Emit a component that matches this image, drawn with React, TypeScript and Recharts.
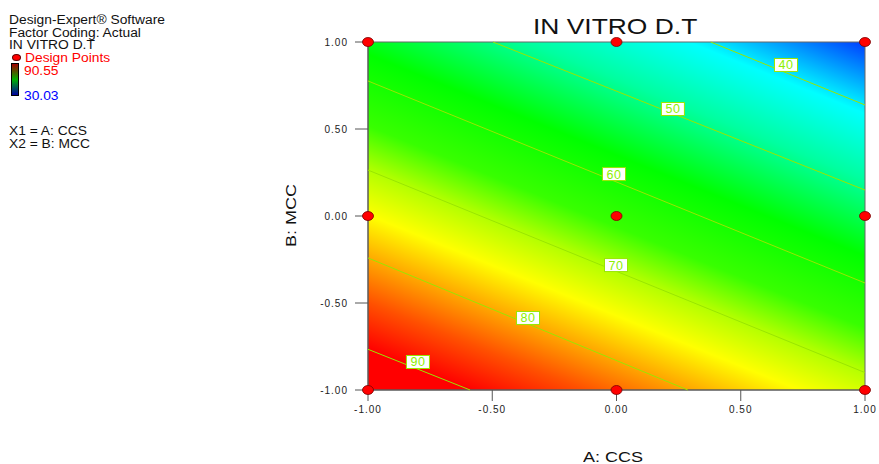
import React from 'react'
import {
  ComposedChart,
  ReferenceArea,
  Scatter,
  XAxis,
  YAxis
} from 'recharts'

// design points (coded factor levels)
const designPoints = [
  { a: -1, b: -1 },
  { a: 0, b: -1 },
  { a: 1, b: -1 },
  { a: -1, b: 0 },
  { a: 0, b: 0 },
  { a: 1, b: 0 },
  { a: -1, b: 1 },
  { a: 0, b: 1 },
  { a: 1, b: 1 }
]

// contour lines, endpoints
const contour40 = [{ a: 0.379, b: 1 }, { a: 1, b: 0.638 }]
const contour50 = [{ a: -0.497, b: 1 }, { a: 1, b: 0.149 }]
const contour60 = [{ a: -1, b: 0.776 }, { a: 1, b: -0.385 }]
const contour70 = [{ a: -1, b: 0.264 }, { a: 1, b: -0.9 }]
const contour80 = [{ a: -1, b: -0.241 }, { a: 0.287, b: -1 }]
const contour90 = [{ a: -1, b: -0.766 }, { a: -0.589, b: -1 }]

const contourLabels = [
  { a: 0.682, b: 0.868, level: '40' },
  { a: 0.227, b: 0.615, level: '50' },
  { a: -0.01, b: 0.241, level: '60' },
  { a: -0.002, b: -0.282, level: '70' },
  { a: -0.356, b: -0.586, level: '80' },
  { a: -0.799, b: -0.839, level: '90' }
]

const ticks = [-1, -0.5, 0, 0.5, 1]

const legendLines = [
  'Design-Expert® Software',
  'Factor Coding: Actual',
  'IN VITRO D.T'
]

const lineColor = '#99e600'

const DesignDot = (props: any) => {
  const { cx, cy } = props
  return <ellipse cx={cx} cy={cy} rx={5.5} ry={4.5} fill='#ff0000' stroke='#7a0000' strokeWidth={0.8} />
}

const ContourTag = (props: any) => {
  const { cx, cy, payload } = props
  return (
    <g>
      <rect x={cx - 11.5} y={cy - 6.5} width={23} height={13} fill='#ffffff' stroke={lineColor} strokeWidth={1} />
      <text x={cx} y={cy + 4.5} textAnchor='middle' fontSize={12.5} fill='#8cf000' letterSpacing={0.5}>
        {payload.level}
      </text>
    </g>
  )
}

const NoShape = () => <g />

const TickY = (props: any) => {
  const { x, y, payload } = props
  return (
    <text x={x} y={y + 3.5} textAnchor='end' fontSize={10} fill='#222' letterSpacing={1}>
      {payload.value.toFixed(2)}
    </text>
  )
}

const TickX = (props: any) => {
  const { x, y, payload } = props
  return (
    <text x={x} y={y + 9} textAnchor='middle' fontSize={10} fill='#222' letterSpacing={1}>
      {payload.value.toFixed(2)}
    </text>
  )
}

const contours = [contour40, contour50, contour60, contour70, contour80, contour90]

const txt: React.CSSProperties = {
  position: 'absolute',
  fontFamily: '"Liberation Sans", Arial, sans-serif',
  whiteSpace: 'nowrap',
  lineHeight: 1,
  transformOrigin: 'left center'
}

const App = () => {
  return (
    <div style={{ position: 'absolute', left: 0, top: 0, width: 879, height: 464, background: '#fff' }}>
      <svg width={0} height={0} style={{ position: 'absolute' }}>
        <defs>
          <linearGradient id='dtGrad' gradientUnits='userSpaceOnUse' x1={865} y1={42} x2={673.4} y2={514.3}>
            <stop offset={0} stopColor='rgb(0,60,255)' />
            <stop offset={0.13} stopColor='#00ffff' />
            <stop offset={0.25} stopColor='#00ffa0' />
            <stop offset={0.389} stopColor='#00ff00' />
            <stop offset={0.519} stopColor='#38ff00' />
            <stop offset={0.6} stopColor='#b4ff00' />
            <stop offset={0.681} stopColor='#ffff00' />
            <stop offset={0.76} stopColor='#ffa800' />
            <stop offset={0.84} stopColor='#ff5000' />
            <stop offset={0.925} stopColor='#ff0000' />
            <stop offset={1} stopColor='#ff0000' />
          </linearGradient>
        </defs>
      </svg>

      {legendLines.map((line, i) => (
        <div key={line} style={{ ...txt, left: 9, top: 14 + i * 12.7, fontSize: 12, color: '#111', transform: 'scaleX(1.15)' }}>
          {line}
        </div>
      ))}
      <div style={{ position: 'absolute', left: 12, top: 54, width: 7, height: 5, borderRadius: '50%', background: '#ff0000', border: '1px solid #600' }} />
      <div style={{ ...txt, left: 25, top: 52, fontSize: 12, color: '#ff0000', transform: 'scaleX(1.15)' }}>Design Points</div>
      <div style={{ position: 'absolute', left: 11, top: 63, width: 6, height: 31, backgroundImage: 'linear-gradient(#a00000, #00b000, #0000a0)', border: '1px solid #000' }} />
      <div style={{ ...txt, left: 24, top: 65, fontSize: 12, color: '#ff0000', transform: 'scaleX(1.15)' }}>90.55</div>
      <div style={{ ...txt, left: 24, top: 90, fontSize: 12, color: '#0000ff', transform: 'scaleX(1.15)' }}>30.03</div>
      <div style={{ ...txt, left: 9, top: 125, fontSize: 12, color: '#111', transform: 'scaleX(1.15)' }}>X1 = A: CCS</div>
      <div style={{ ...txt, left: 9, top: 138, fontSize: 12, color: '#111', transform: 'scaleX(1.15)' }}>X2 = B: MCC</div>

      <div style={{ ...txt, left: 533, top: 16, fontSize: 22, color: '#111', transform: 'scaleX(1.2)' }}>IN VITRO D.T</div>
      <div style={{ ...txt, left: 583, top: 449, fontSize: 15, color: '#111', transform: 'scaleX(1.2)' }}>A: CCS</div>
      <div style={{ ...txt, left: 257, top: 208, fontSize: 15, color: '#111', transformOrigin: 'center center', transform: 'rotate(-90deg) scaleX(1.2)', width: 66, textAlign: 'center' }}>B: MCC</div>

      <ComposedChart
        width={879}
        height={464}
        margin={{ top: 42, right: 14, bottom: 0, left: 290 }}
        style={{ fontFamily: '"Liberation Sans", Arial, sans-serif' }}>
        <XAxis
          type='number'
          dataKey='a'
          domain={[-1, 1]}
          ticks={ticks}
          height={74}
          tickSize={11}
          tickMargin={3}
          stroke='#555'
          tick={<TickX />}
        />
        <YAxis
          type='number'
          dataKey='b'
          domain={[-1, 1]}
          ticks={ticks}
          width={78}
          tickSize={13}
          tickMargin={7}
          stroke='#555'
          tick={<TickY />}
        />
        <ReferenceArea x1={-1} x2={1} y1={-1} y2={1} fill='url(#dtGrad)' fillOpacity={1} stroke='#666' strokeWidth={1} />
        {contours.map((c, i) => (
          <Scatter
            key={`c-${i}`}
            data={c}
            line={{ stroke: lineColor, strokeWidth: 1 }}
            shape={<NoShape />}
            isAnimationActive={false}
          />
        ))}
        <Scatter data={contourLabels} shape={<ContourTag />} isAnimationActive={false} />
        <Scatter data={designPoints} shape={<DesignDot />} isAnimationActive={false} />
      </ComposedChart>
    </div>
  )
}

export default App
